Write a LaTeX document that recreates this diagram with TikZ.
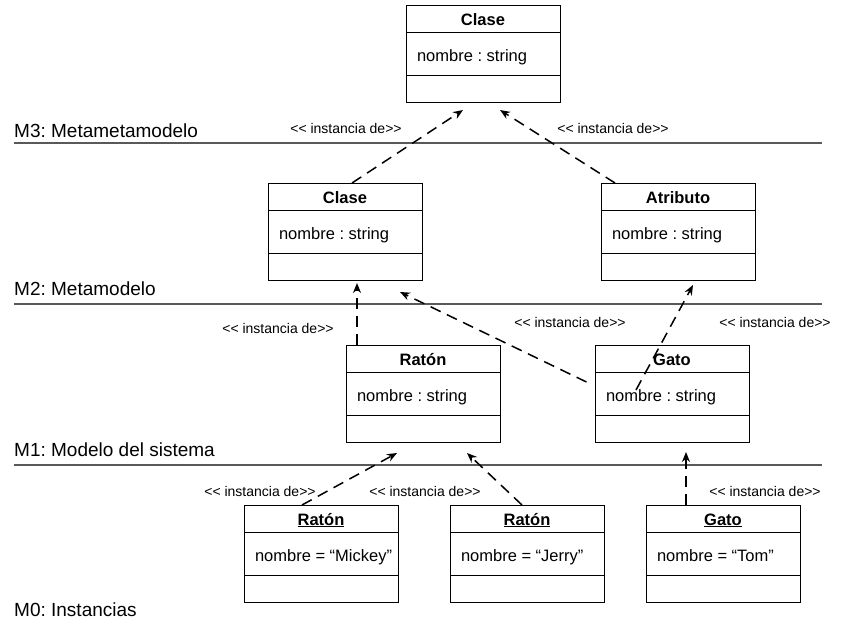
\documentclass[tikz,border=0pt]{standalone}
\usepackage{fontspec}
\setmainfont{Liberation Sans}
\usetikzlibrary{shapes.multipart,arrows.meta,calc}
\frenchspacing

\newcommand{\umltitle}[1]{\rule[-7pt]{0pt}{26pt}\makebox[154pt]{\bfseries #1}}
\newcommand{\umlattr}[1]{\rule[-14pt]{0pt}{42pt}\makebox[154pt][l]{\hspace{11pt}#1}}
\newcommand{\umlempty}{\rule{0pt}{26pt}}

\begin{document}
\begin{tikzpicture}[x=1pt, y=-1pt, >=Stealth]
  \tikzstyle{umlbox} = [rectangle split, rectangle split parts=3, draw, line width=1pt, inner sep=0pt, font=\fontsize{16.5}{19}\selectfont]
  \tikzstyle{inst} = [draw, line width=1.5pt, dash pattern=on 11pt off 7pt, -{Stealth[length=10pt,width=8pt]}]
  \tikzstyle{instlbl} = [font=\fontsize{14}{16}\selectfont, inner sep=0pt]
  \tikzstyle{layer} = [font=\fontsize{19}{22}\selectfont, anchor=base west, inner sep=0pt]
  \tikzstyle{sep} = [draw=black!65, line width=1.2pt]

  \useasboundingbox (0,0) rectangle (844,624);

  % capas
  \node[layer] (m3lbl) at (14,137) {M3: Metametamodelo};
  \node[layer] (m2lbl) at (14,295) {M2: Metamodelo};
  \node[layer] (m1lbl) at (14,456) {M1: Modelo del sistema};
  \node[layer] (m0lbl) at (14,616) {M0: Instancias};
  \draw[sep] (14,143) -- (822,143);
  \draw[sep] (14,304) -- (822,304);
  \draw[sep] (14,465) -- (822,465);

  % clases
  \node[umlbox] (top) at (483,54) {\umltitle{Clase}\nodepart{two}\umlattr{nombre : string}\nodepart{three}\umlempty};
  \node[umlbox] (m2clase) at (345,232) {\umltitle{Clase}\nodepart{two}\umlattr{nombre : string}\nodepart{three}\umlempty};
  \node[umlbox] (atrib) at (678,232) {\umltitle{Atributo}\nodepart{two}\umlattr{nombre : string}\nodepart{three}\umlempty};
  \node[umlbox] (raton) at (423,394) {\umltitle{Ratón}\nodepart{two}\umlattr{nombre : string}\nodepart{three}\umlempty};
  \node[umlbox] (gato) at (672,394) {\umltitle{Gato}\nodepart{two}\umlattr{nombre : string}\nodepart{three}\umlempty};
  \node[umlbox] (mickey) at (321,554) {\umltitle{\underline{Ratón}}\nodepart{two}\umlattr{nombre = “Mickey”}\nodepart{three}\umlempty};
  \node[umlbox] (jerry) at (527,554) {\umltitle{\underline{Ratón}}\nodepart{two}\umlattr{nombre = “Jerry”}\nodepart{three}\umlempty};
  \node[umlbox] (tom) at (723,554) {\umltitle{\underline{Gato}}\nodepart{two}\umlattr{nombre = “Tom”}\nodepart{three}\umlempty};

  % instancia de
  \draw[inst] ([xshift=7pt]m2clase.north) -- ([xshift=-20pt,yshift=-7pt]top.south);
  \draw[inst] ([xshift=-63pt]atrib.north) -- ([xshift=17pt,yshift=-7pt]top.south);
  \draw[inst] ([xshift=-66pt]raton.north) -- ([xshift=12pt,yshift=-2pt]m2clase.south);
  \draw[inst] ([xshift=-8pt,yshift=12pt]gato.west) -- ([xshift=55pt,yshift=-11pt]m2clase.south);
  \draw[inst] ([xshift=-36pt,yshift=4pt]gato.center) -- ([xshift=15pt,yshift=-4pt]atrib.south);
  \draw[inst] ([xshift=-19pt]mickey.north) -- ([xshift=-26pt,yshift=-10pt]raton.south);
  \draw[inst] ([xshift=-5pt]jerry.north) -- ([xshift=44pt,yshift=-10pt]raton.south);
  \draw[inst] ([xshift=-37pt]tom.north) -- ([xshift=14pt,yshift=-9pt]gato.south);

  \node[instlbl] (l1) at (346,128) {<{}< instancia de>{}>};
  \node[instlbl] (l2) at (613,128) {<{}< instancia de>{}>};
  \node[instlbl] (l3) at (278,328) {<{}< instancia de>{}>};
  \node[instlbl] (l4) at (570,322) {<{}< instancia de>{}>};
  \node[instlbl] (l5) at (775,322) {<{}< instancia de>{}>};
  \node[instlbl] (l6) at (260,491) {<{}< instancia de>{}>};
  \node[instlbl] (l7) at (425,491) {<{}< instancia de>{}>};
  \node[instlbl] (l8) at (765,491) {<{}< instancia de>{}>};
\end{tikzpicture}
\end{document}
